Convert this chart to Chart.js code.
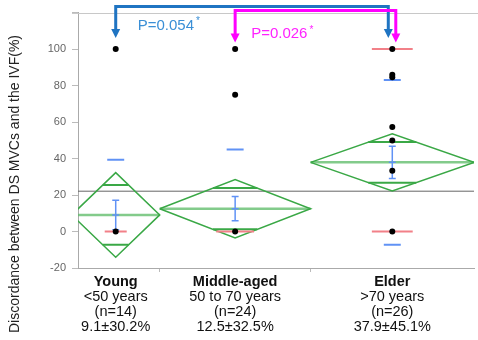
<!DOCTYPE html>
<html>
<head>
<meta charset="utf-8">
<script src="https://cdn.jsdelivr.net/npm/chart.js@4"></script>
<style>
  html, body { margin: 0; padding: 0; background: #fff; }
  #wrap { width: 478px; height: 340px; }
</style>
</head>
<body>
<div id="wrap"><canvas id="chart" width="478" height="340"></canvas></div>
<script>
// data
const groups = ['Young', 'Middle-aged', 'Elder'];
const ageRanges = ['<50 years', '50 to 70 years', '>70 years'];
const counts = [14, 24, 26];
const means = [9.1, 12.5, 37.9];
const sds = [30.2, 32.5, 45.1];
const ciHalf = [23.2, 16.0, 15.7];      // 95% CI of the mean (diamond tips)
const grandMean = 22.1;
const points = [
    [100, 0],
    [100, 75, 0],
    [100, 86, 84.5, 57.3, 49.9, 33.3, 0]
];
const quantileLines = [[0], [0], [100, 0]];
const yTicks = [-20, 0, 20, 40, 60, 80, 100, 120];
const pValues = ['P=0.054', 'P=0.026'];

const GREEN = 'rgb(58,168,70)';
const GREEN_MEAN = 'rgba(90,185,100,0.75)';
const BLUE = 'rgb(96,146,245)';
const RED = 'rgb(242,128,136)';

// x axis proportional to group size
const starts = [];
let acc = 0;
counts.forEach(n => { starts.push(acc); acc += n; });
const centers = counts.map((n, i) => starts[i] + n / 2);

const datasets = [];
function seg(pts, color, width, order) {
    datasets.push({
        data: pts, showLine: true, borderColor: color, borderWidth: width,
        pointRadius: 0, fill: false, order: order
    });
}

// grand mean
seg([{ x: 0, y: grandMean }, { x: acc, y: grandMean }], '#666', 1, 5);

groups.forEach((g, i) => {
    const c = centers[i], h = counts[i] / 2, m = means[i], ci = ciHalf[i];
    // means diamond
    seg([{ x: c - h, y: m }, { x: c, y: m + ci }, { x: c + h, y: m }, { x: c, y: m - ci }, { x: c - h, y: m }], GREEN, 1.5, 4);
    seg([{ x: c - h, y: m }, { x: c + h, y: m }], GREEN_MEAN, 2.5, 4);
    // overlap marks
    const ov = ci / Math.SQRT2, ow = h * (1 - 1 / Math.SQRT2);
    seg([{ x: c - ow, y: m + ov }, { x: c + ow, y: m + ov }], GREEN, 2, 4);
    seg([{ x: c - ow, y: m - ov }, { x: c + ow, y: m - ov }], GREEN, 2, 4);
    // std dev lines
    [m + sds[i], m - sds[i]].forEach(v => {
        if (v > -20) seg([{ x: c - 1.35, y: v }, { x: c + 1.35, y: v }], BLUE, 2, 3);
    });
    // mean error bars
    const se = sds[i] / Math.sqrt(counts[i]);
    seg([{ x: c, y: m - se }, { x: c, y: m + se }], BLUE, 1.5, 3);
    [m - se, m, m + se].forEach(v => seg([{ x: c - 0.55, y: v }, { x: c + 0.55, y: v }], BLUE, 1.5, 3));
    // quantile lines
    quantileLines[i].forEach(v => seg([{ x: c - h / 4, y: v }, { x: c + h / 4, y: v }], RED, 2, 2));
});

datasets.push({
    data: points.flatMap((arr, i) => arr.map(v => ({ x: centers[i], y: v }))),
    pointRadius: 3, pointBackgroundColor: '#000', pointBorderWidth: 0, order: 0
});

const extras = {
    id: 'extras',
    afterDraw(chart) {
        const ctx = chart.ctx, xs = chart.scales.x, ys = chart.scales.y, a = chart.chartArea;
        ctx.save();
        // top frame line
        ctx.strokeStyle = '#c8c8c8';
        ctx.lineWidth = 1;
        ctx.beginPath();
        ctx.moveTo(a.left - 6, Math.round(a.top) + 0.5);
        ctx.lineTo(chart.width, Math.round(a.top) + 0.5);
        ctx.stroke();

        // x category labels
        ctx.fillStyle = '#111';
        ctx.textAlign = 'center';
        ctx.textBaseline = 'alphabetic';
        groups.forEach((g, i) => {
            const px = xs.getPixelForValue(centers[i]);
            ctx.font = 'bold 14.5px "Liberation Sans", Arial, sans-serif';
            ctx.fillText(g, px, 286);
            ctx.font = '14.5px "Liberation Sans", Arial, sans-serif';
            ctx.fillText(ageRanges[i], px, 301);
            ctx.fillText('(n=' + counts[i] + ')', px, 316);
            ctx.fillText(means[i].toFixed(1) + '±' + sds[i].toFixed(1) + '%', px, 331);
        });

        // y title
        ctx.save();
        ctx.translate(19, 184);
        ctx.rotate(-Math.PI / 2);
        ctx.fillStyle = '#222';
        ctx.font = '14px "Liberation Sans", Arial, sans-serif';
        ctx.fillText('Discordance between DS MVCs and the IVF(%)', 0, 0);
        ctx.restore();

        // significance brackets
        const y100 = ys.getPixelForValue(100);
        function bracket(x1, x2, yTop, yTip, color) {
            ctx.strokeStyle = color;
            ctx.fillStyle = color;
            ctx.lineWidth = 3;
            ctx.lineJoin = 'miter';
            ctx.beginPath();
            ctx.moveTo(x1, yTip - 8);
            ctx.lineTo(x1, yTop);
            ctx.lineTo(x2, yTop);
            ctx.lineTo(x2, yTip - 8);
            ctx.stroke();
            [x1, x2].forEach(x => {
                ctx.beginPath();
                ctx.moveTo(x - 4.5, yTip - 9);
                ctx.lineTo(x + 4.5, yTip - 9);
                ctx.lineTo(x, yTip);
                ctx.closePath();
                ctx.fill();
            });
        }
        const xY = xs.getPixelForValue(centers[0]);
        const xM = xs.getPixelForValue(centers[1]);
        const xE = xs.getPixelForValue(centers[2]);
        bracket(xY, xE - 4, 6.5, y100 - 11, '#1f74c2');
        bracket(xM, xE + 3.5, 10.5, y100 - 6.5, '#ff00ff');

        ctx.textAlign = 'left';
        ctx.font = '15px "Liberation Sans", Arial, sans-serif';
        ctx.fillStyle = '#3a8fd6';
        ctx.fillText(pValues[0], xY + 22, 29.5);
        let w = ctx.measureText(pValues[0]).width;
        ctx.font = '10px "Liberation Sans", Arial, sans-serif';
        ctx.fillText('*', xY + 24 + w, 24);
        ctx.font = '15px "Liberation Sans", Arial, sans-serif';
        ctx.fillStyle = '#ff22ff';
        ctx.fillText(pValues[1], xM + 16, 38);
        w = ctx.measureText(pValues[1]).width;
        ctx.font = '10px "Liberation Sans", Arial, sans-serif';
        ctx.fillText('*', xM + 18 + w, 32.5);
        ctx.restore();
    }
};

new Chart(document.getElementById('chart').getContext('2d'), {
    type: 'scatter',
    data: { datasets: datasets },
    options: {
        responsive: false,
        animation: false,
        layout: { padding: { left: 0, top: 12, right: -3, bottom: 0 } },
        plugins: { legend: { display: false }, tooltip: { enabled: false } },
        scales: {
            x: {
                type: 'linear', min: 1, max: acc,
                afterFit: s => { s.height = 72; },
                afterBuildTicks: s => { s.ticks = starts.slice(1).map(v => ({ value: v })); },
                ticks: { display: false },
                grid: { drawOnChartArea: false, tickLength: 4, color: '#bbb' },
                border: { color: '#aaa' }
            },
            y: {
                min: -20, max: 120,
                afterFit: s => { s.width = 78; },
                afterBuildTicks: s => { s.ticks = yTicks.map(v => ({ value: v })); },
                ticks: {
                    padding: 6, color: '#666',
                    font: { size: 11, family: '"Liberation Sans", Arial, sans-serif' },
                    callback: v => (v === 120 ? '' : v)
                },
                grid: { drawOnChartArea: false, tickLength: 6, color: '#bbb' },
                border: { color: '#aaa' }
            }
        }
    },
    plugins: [extras]
});
</script>
</body>
</html>
